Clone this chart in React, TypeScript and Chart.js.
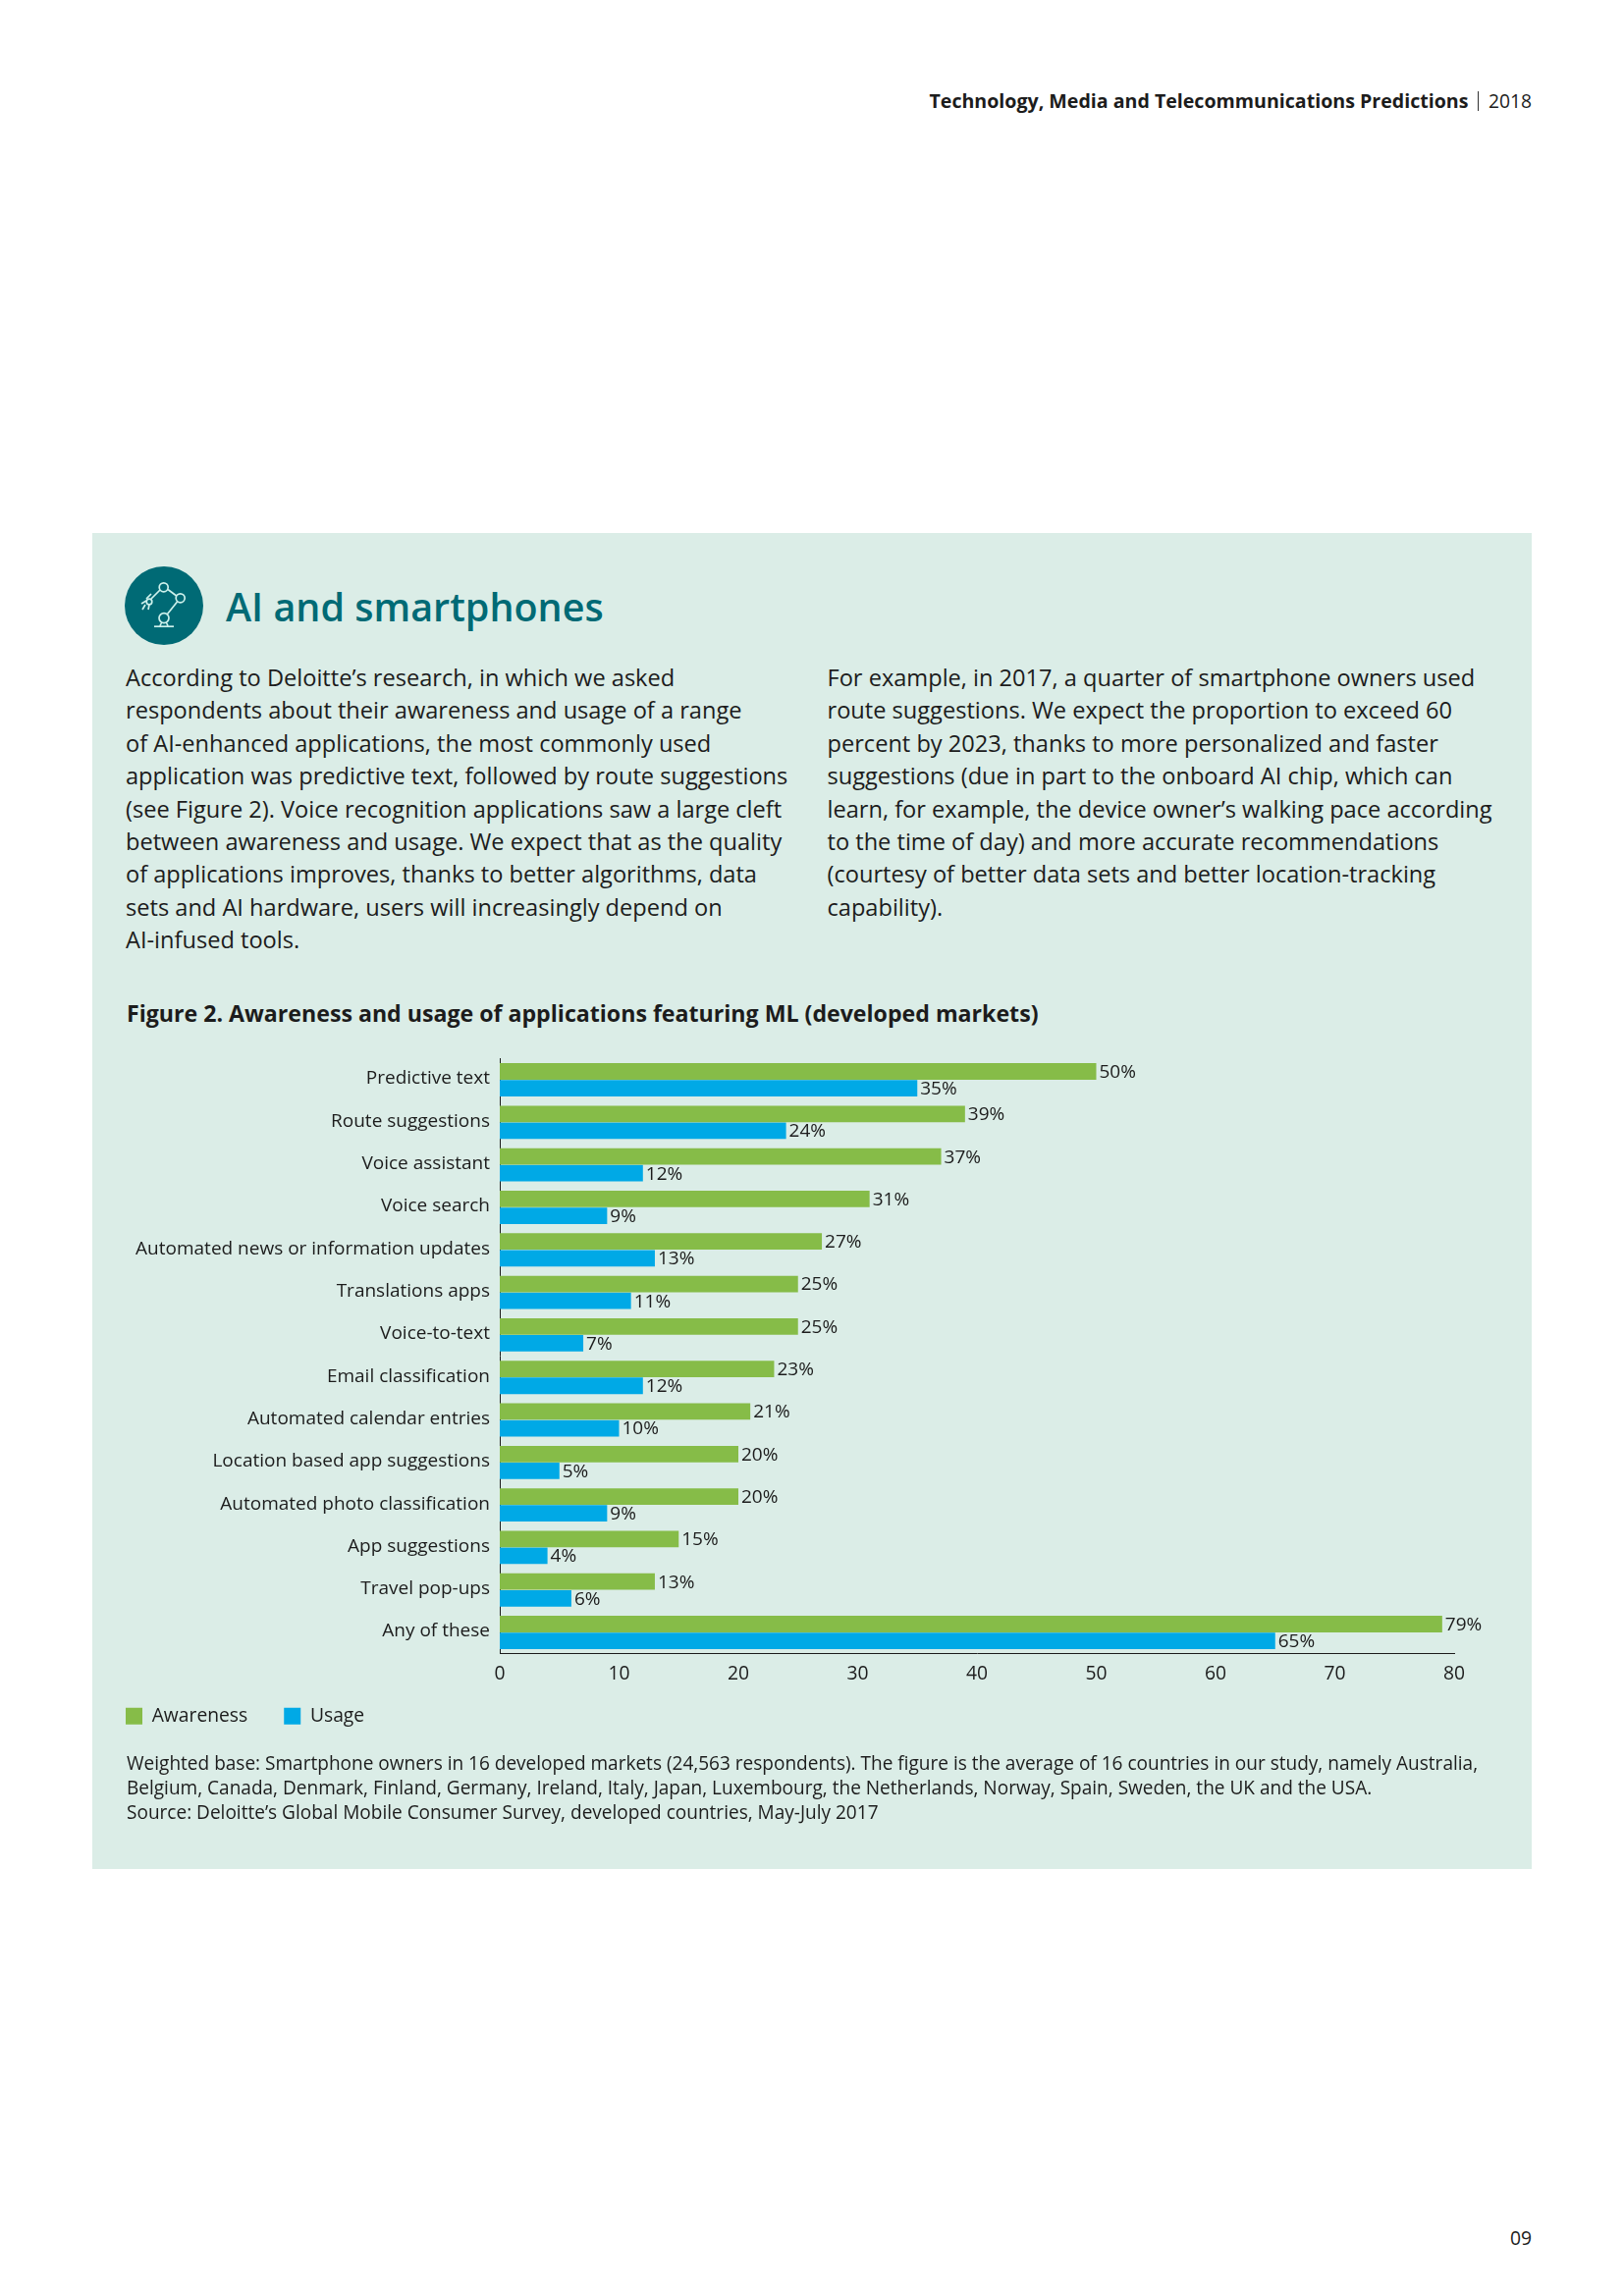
import React, { useEffect, useRef } from "react";
import { Chart, registerables } from "chart.js";

Chart.register(...registerables);

const categories = [
  "Predictive text",
  "Route suggestions",
  "Voice assistant",
  "Voice search",
  "Automated news or information updates",
  "Translations apps",
  "Voice-to-text",
  "Email classification",
  "Automated calendar entries",
  "Location based app suggestions",
  "Automated photo classification",
  "App suggestions",
  "Travel pop-ups",
  "Any of these",
];
const awareness = [50, 39, 37, 31, 27, 25, 25, 23, 21, 20, 20, 15, 13, 79];
const usage = [35, 24, 12, 9, 13, 11, 7, 12, 10, 5, 9, 4, 6, 65];
const xMin = 0;
const xMax = 80;
const xStep = 10;

const leftColumn = [
  "According to Deloitte’s research, in which we asked",
  "respondents about their awareness and usage of a range",
  "of AI-enhanced applications, the most commonly used",
  "application was predictive text, followed by route suggestions",
  "(see Figure 2). Voice recognition applications saw a large cleft",
  "between awareness and usage. We expect that as the quality",
  "of applications improves, thanks to better algorithms, data",
  "sets and AI hardware, users will increasingly depend on",
  "AI-infused tools.",
];
const rightColumn = [
  "For example, in 2017, a quarter of smartphone owners used",
  "route suggestions. We expect the proportion to exceed 60",
  "percent by 2023, thanks to more personalized and faster",
  "suggestions (due in part to the onboard AI chip, which can",
  "learn, for example, the device owner’s walking pace according",
  "to the time of day) and more accurate recommendations",
  "(courtesy of better data sets and better location-tracking",
  "capability).",
];
const footnotes = [
  "Weighted base: Smartphone owners in 16 developed markets (24,563 respondents). The figure is the average of 16 countries in our study, namely Australia,",
  "Belgium, Canada, Denmark, Finland, Germany, Ireland, Italy, Japan, Luxembourg, the Netherlands, Norway, Spain, Sweden, the UK and the USA.",
  "Source: Deloitte’s Global Mobile Consumer Survey, developed countries, May-July 2017",
];

const FONT = '"Open Sans", sans-serif';
const INK = "#1c1c1c";
const GREEN = "#86BC48";
const BLUE = "#00A9E6";
const PANEL = "#DBEDE7";
const TEAL = "#006A75";

const valueLabels = {
  id: "valueLabels",
  afterDatasetsDraw(chart: any) {
    const { ctx } = chart;
    ctx.save();
    ctx.font = `19px ${FONT}`;
    ctx.fillStyle = INK;
    ctx.textAlign = "left";
    ctx.textBaseline = "middle";
    chart.data.datasets.forEach((ds: any, i: number) => {
      chart.getDatasetMeta(i).data.forEach((bar: any, j: number) => {
        ctx.fillText(`${ds.data[j]}%`, bar.x + 3, bar.y + 1);
      });
    });
    ctx.restore();
  },
};

const raiseLegend = {
  id: "raiseLegend",
  afterLayout(chart: any) {
    chart.legend.top -= 25;
  },
};

function Line({ text, left, cy, size, weight = 400, color = INK, right }: any) {
  const style: React.CSSProperties = {
    position: "absolute",
    top: cy - 25,
    height: 50,
    lineHeight: "50px",
    fontSize: size,
    fontWeight: weight,
    color,
    fontFamily: FONT,
    whiteSpace: "nowrap",
  };
  if (right !== undefined) style.right = 1654 - right;
  else style.left = left;
  return <div style={style}>{text}</div>;
}

export default function App() {
  const ref = useRef<HTMLCanvasElement | null>(null);
  useEffect(() => {
    const chart = new Chart(ref.current as HTMLCanvasElement, {
      type: "bar",
      data: {
        labels: categories,
        datasets: [
          { label: "Awareness", data: awareness, backgroundColor: GREEN, categoryPercentage: 0.79, barPercentage: 0.98 },
          { label: "Usage", data: usage, backgroundColor: BLUE, categoryPercentage: 0.79, barPercentage: 0.98 },
        ],
      },
      plugins: [valueLabels, raiseLegend],
      options: {
        indexAxis: "y",
        animation: false,
        responsive: false,
        devicePixelRatio: 1,
        layout: { padding: { top: 19, right: 68, left: 0, bottom: 0 } },
        scales: {
          x: {
            min: xMin,
            max: xMax,
            afterFit(scale: any) {
              scale.height = 42;
            },
            grid: { display: false, drawTicks: false },
            border: { display: true, color: INK, width: 1 },
            ticks: { stepSize: xStep, color: INK, font: { family: FONT, size: 19.3 }, padding: 9, maxRotation: 0, autoSkip: false },
          },
          y: {
            afterFit(scale: any) {
              scale.width = 418;
            },
            grid: { display: false, drawTicks: false },
            border: { display: true, color: INK, width: 1 },
            ticks: { color: INK, font: { family: FONT, size: 19 }, padding: 10, labelOffset: -1, autoSkip: false },
          },
        },
        plugins: {
          tooltip: { enabled: false },
          title: { display: false },
          legend: {
            position: "bottom",
            align: "start",
            labels: {
              boxWidth: 17,
              boxHeight: 17,
              padding: 37,
              color: INK,
              font: { family: FONT, size: 19.3 },
            },
          },
        },
      } as any,
    });
    return () => chart.destroy();
  }, []);

  return (
    <div style={{ position: "absolute", left: 0, top: 0, width: 1654, height: 2339, background: "#fff", overflow: "hidden" }}>
      <Line text="Technology, Media and Telecommunications Predictions" right={1495.5} cy={103} size={19.6} weight={700} />
      <div style={{ position: "absolute", left: 1504.5, top: 93, width: 1, height: 20, background: "#333" }} />
      <Line text="2018" right={1560} cy={103} size={19.3} />
      <div style={{ position: "absolute", left: 94, top: 543.3, width: 1466, height: 1360.7, background: PANEL }} />
      <svg style={{ position: "absolute", left: 127, top: 576.5, width: 80, height: 80 }} viewBox="0 0 80 80">
        <circle cx="40" cy="40" r="40" fill={TEAL} />
        <g fill="none" stroke="#CDF1EC" strokeWidth="1.7">
          <line x1="30" y1="61.2" x2="50" y2="61.2" />
          <path d="M36 61 Q37 57.5 38 57.5 M44 61 Q43 57.5 42 57.5" />
          <circle cx="40" cy="52.6" r="5" />
          <line x1="43.5" y1="48.5" x2="53.5" y2="36" />
          <circle cx="56.7" cy="32.3" r="4.5" />
          <line x1="52.7" y1="30" x2="44" y2="23.5" />
          <circle cx="39.7" cy="21.3" r="4.5" />
          <line x1="36" y1="24" x2="27" y2="33" />
          <circle cx="25" cy="36" r="2.8" />
          <path d="M22 33 L27 28 M17 38 L22 35 M21 39 L18 44 M25 39 L24 44" />
        </g>
      </svg>
      <Line text="AI and smartphones" left={230} cy={618} size={39.5} weight={600} color={TEAL} />
      {leftColumn.map((t, i) => (
        <Line key={t} text={t} left={128} cy={690 + i * 33.4} size={23.6} />
      ))}
      {rightColumn.map((t, i) => (
        <Line key={t} text={t} left={842.5} cy={690 + i * 33.4} size={23.6} />
      ))}
      <Line text="Figure 2. Awareness and usage of applications featuring ML (developed markets)" left={129} cy={1031.5} size={23.15} weight={700} />
      <canvas ref={ref} width={1458} height={736} style={{ position: "absolute", left: 91, top: 1057, width: 1458, height: 736 }} />
      {footnotes.map((t, i) => (
        <Line key={t} text={t} left={129} cy={1796 + i * 25} size={19.05} />
      ))}
      <Line text="09" right={1560} cy={2279.5} size={19.3} />
    </div>
  );
}
